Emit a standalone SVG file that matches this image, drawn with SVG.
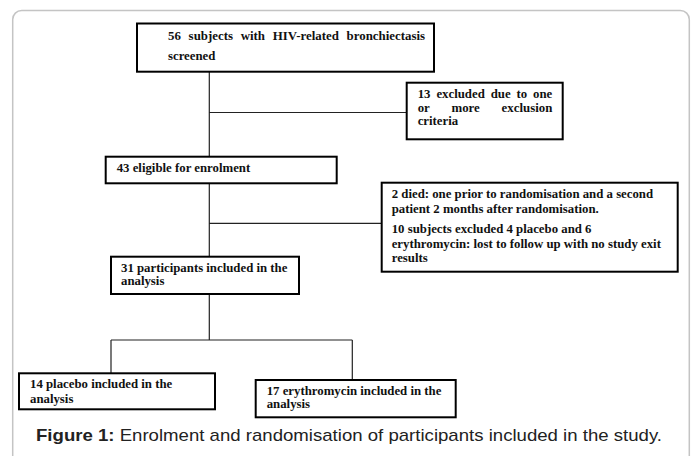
<svg xmlns="http://www.w3.org/2000/svg" width="692" height="456" viewBox="0 0 692 456">
<style>
.box{fill:#fff;stroke:#000;stroke-width:2}
.t{font-family:"Liberation Serif","Times New Roman",serif;font-weight:bold;font-size:12.8px;fill:#111}
.c{fill:none;stroke:#222;stroke-width:1.2}
.cap{font-family:"Liberation Sans",Arial,sans-serif;font-size:17px;fill:#222}
</style>
<rect width="692" height="456" fill="#fff"/>
<rect x="12.7" y="10.5" width="676.6" height="470" rx="9" fill="#fff" stroke="#c4c4c4" stroke-width="1.5"/>
<g id="connectors">
<path class="c" d="M209.3 71.7V156.7M209.3 112.5H406.7M209.3 183.3V256.7M209.3 223.3H381.7M209.3 294V340M111 340H352.3M111 340V373.3M352.3 340V380"/>
</g>
<g id="n1">
<rect class="box" x="137" y="23.5" width="297" height="48.2"/>
<text class="t" x="168" y="40" textLength="257" lengthAdjust="spacingAndGlyphs" word-spacing="4.5">56 subjects with HIV-related bronchiectasis</text>
<text class="t" x="168" y="60">screened</text>
</g>
<g id="n2">
<rect class="box" x="406.7" y="82.7" width="156" height="56.6"/>
<text class="t" x="417.7" y="98.3" textLength="134.6" lengthAdjust="spacingAndGlyphs" word-spacing="2.7">13 excluded due to one</text>
<text class="t" x="417.7" y="111.7" textLength="134.6" lengthAdjust="spacingAndGlyphs" word-spacing="18.6">or more exclusion</text>
<text class="t" x="417.7" y="125">criteria</text>
</g>
<g id="n3">
<rect class="box" x="105.7" y="156.7" width="231" height="26.6"/>
<text class="t" x="116.7" y="172.3">43 eligible for enrolment</text>
</g>
<g id="n4">
<rect class="box" x="381.7" y="182.7" width="296" height="89"/>
<text class="t" x="391.7" y="198.3">2 died: one prior to randomisation and a second</text>
<text class="t" x="391.7" y="213.3">patient 2 months after randomisation.</text>
<text class="t" x="391.7" y="232.7">10 subjects excluded 4 placebo and 6</text>
<text class="t" x="391.7" y="247.7">erythromycin: lost to follow up with no study exit</text>
<text class="t" x="391.7" y="261.7">results</text>
</g>
<g id="n5">
<rect class="box" x="111" y="256.7" width="188" height="37.3"/>
<text class="t" x="121" y="271.7">31 participants included in the</text>
<text class="t" x="121" y="285">analysis</text>
</g>
<g id="n6">
<rect class="box" x="19" y="373.3" width="196" height="36"/>
<text class="t" x="30" y="388.3">14 placebo included in the</text>
<text class="t" x="30" y="403.3">analysis</text>
</g>
<g id="n7">
<rect class="box" x="255.7" y="380" width="200" height="37.3"/>
<text class="t" x="266.7" y="395">17 erythromycin included in the</text>
<text class="t" x="266.7" y="408.3">analysis</text>
</g>
<text class="cap" x="36" y="440.5" textLength="626" lengthAdjust="spacingAndGlyphs"><tspan font-weight="bold">Figure 1:</tspan> Enrolment and randomisation of participants included in the study.</text>
</svg>
